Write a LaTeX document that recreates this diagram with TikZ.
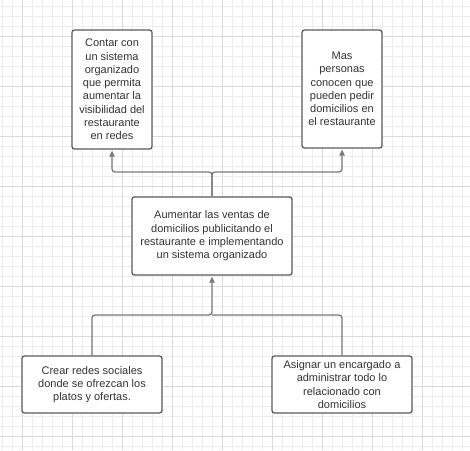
\documentclass[tikz,border=0pt]{standalone}
\usepackage{fontspec}
\setmainfont{Liberation Sans}
\usetikzlibrary{arrows.meta}
\definecolor{gridminor}{HTML}{EDEDED}
\definecolor{gridmajor}{HTML}{DADADA}
\definecolor{boxline}{HTML}{5C5C5C}
\definecolor{connline}{HTML}{7A7A7A}
\definecolor{txt}{HTML}{333333}
\tikzset{
  box/.style={draw=boxline, line width=1.3pt, rounded corners=2.5pt, fill=white,
    text=txt, align=center, inner sep=0pt,
    font=\fontsize{11}{13.3}\selectfont},
  conn/.style={draw=connline, line width=1.3pt, rounded corners=3pt},
  arr/.style={-{Triangle[length=6pt,width=5.5pt]}}
}
\begin{document}
\begin{tikzpicture}[x=1pt,y=-1pt]
\useasboundingbox (0,0) rectangle (470,450);
\fill[white] (0,0) rectangle (470,450);
% grid
\foreach \x in {2,12,...,462} \draw[gridminor, line width=0.8pt] (\x,0) -- (\x,450);
\foreach \y in {6,16,...,446} \draw[gridminor, line width=0.8pt] (0,\y) -- (470,\y);
\foreach \x in {22,72,...,422} \draw[gridmajor, line width=0.8pt] (\x,0) -- (\x,450);
\foreach \y in {36,86,...,436} \draw[gridmajor, line width=0.8pt] (0,\y) -- (470,\y);
% nodes
\node[box, minimum width=80pt, minimum height=119pt] (b1) at (112,89.5)
  {Contar con\\un sistema\\organizado\\que permita\\aumentar la\\visibilidad del\\restaurante\\en redes};
\node[box, minimum width=80pt, minimum height=118pt] (b2) at (342,89)
  {Mas\\personas\\conocen que\\pueden pedir\\domicilios en\\el restaurante};
\node[box, minimum width=160pt, minimum height=78pt] (c) at (212,236)
  {Aumentar las ventas de\\domicilios publicitando el\\restaurante e implementando\\un sistema organizado};
\node[box, minimum width=140pt, minimum height=57pt] (bl) at (92,384.5)
  {Crear redes sociales\\donde se ofrezcan los\\platos y ofertas.};
\node[box, minimum width=140pt, minimum height=57pt] (br) at (342,384.5)
  {\raisebox{0pt}{Asignar un encargado a}\\administrar todo lo\\relacionado con\\domicilios};
% connectors
\coordinate (j1) at (212,172);
\coordinate (j2) at (212,315);
\draw[conn, arr] (c.north) -- (j1) -| ([yshift=-1pt]b1.south);
\draw[conn, arr] (c.north) -- (j1) -| ([yshift=-1pt]b2.south);
\draw[conn, arr] (bl.north) |- (j2) -- ([yshift=-1pt]c.south);
\draw[conn] (br.north) |- (j2);
\end{tikzpicture}
\end{document}
